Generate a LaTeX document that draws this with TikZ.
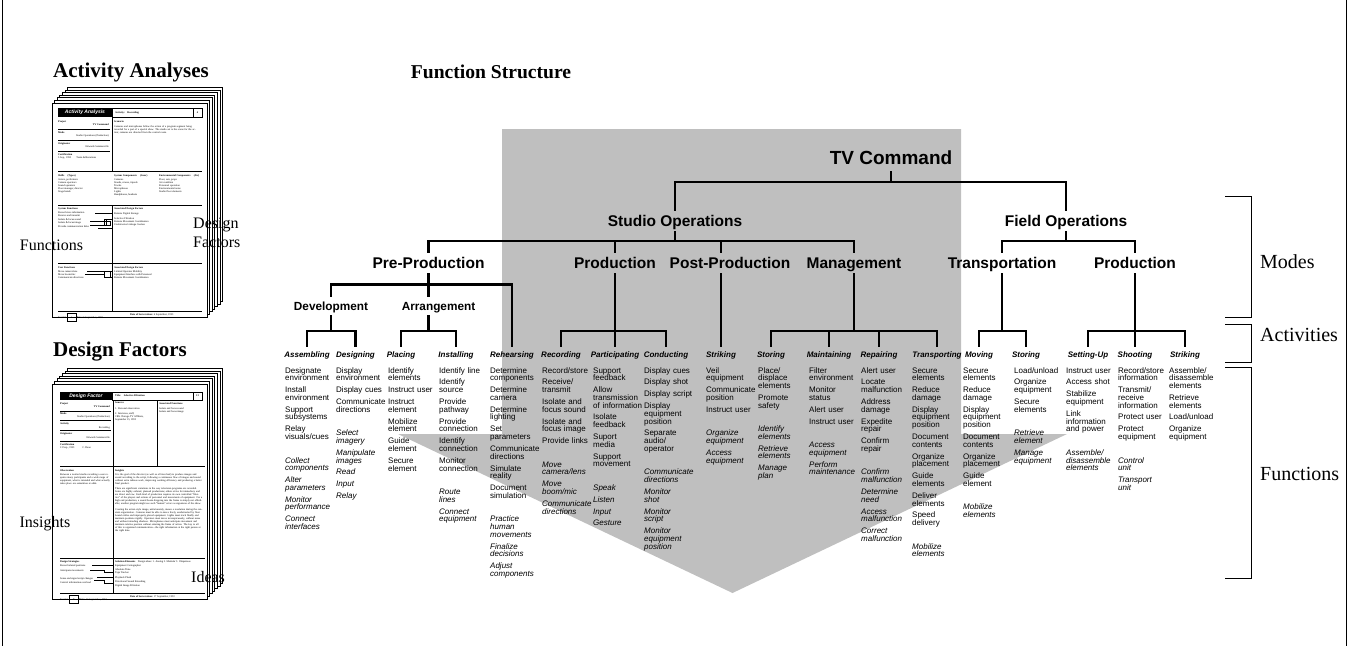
\documentclass[tikz,border=0pt]{standalone}
\usepackage{fontspec}
\setmainfont{Liberation Serif}
\newfontfamily\hv{Liberation Sans}
\usetikzlibrary{calc}
\newcommand\ig{\\[4.1pt]}
\newcommand\ib{\\[15.7pt]\itshape}
\setlength{\lineskiplimit}{-5pt}
\begin{document}
\begin{tikzpicture}[x=1pt,y=-1pt,
  tree/.style={line width=2.6pt},
  lvz/.style={font=\hv\bfseries\fontsize{19}{19}\selectfont,text height=13.6pt,text depth=0pt,inner xsep=0pt,inner ysep=6pt},
  lva/.style={font=\hv\bfseries\fontsize{15.5}{15.5}\selectfont,text height=11.1pt,text depth=0pt,inner xsep=0pt,inner ysep=4.5pt},
  lvc/.style={font=\hv\bfseries\fontsize{11.8}{11.8}\selectfont,text height=8.5pt,text depth=0pt,inner xsep=0pt,inner ysep=5pt},
  actv/.style={font=\hv\bfseries\itshape\fontsize{8}{8}\selectfont,text height=5.8pt,text depth=0pt,inner xsep=0pt,inner ysep=4.6pt},
  fn/.style={font=\hv\fontsize{8}{7.75}\selectfont,anchor=base west,text width=70pt,align=left,inner sep=0pt},
  title/.style={font=\bfseries\fontsize{21}{21}\selectfont,inner sep=0pt},
  side/.style={font=\fontsize{20}{20}\selectfont,inner sep=0pt,anchor=west},
  clab/.style={font=\fontsize{16}{19}\selectfont,inner sep=0pt},
  brk/.style={line width=0.8pt},
  page/.style={draw,fill=white,line width=0.8pt},
  tx/.style={font=\fontsize{2.6}{3.1}\selectfont,inner sep=0pt,anchor=north west},
  txr/.style={tx,anchor=north east},
  txb/.style={font=\bfseries\fontsize{2.6}{3.1}\selectfont,inner sep=0pt,anchor=north west},
  rl/.style={line width=0.9pt},
  thn/.style={line width=0.4pt},
]
\useasboundingbox (0,0) rectangle (1352,646);
% frame
\draw[line width=0.8pt] (2,0) -- (2,646);
\draw[line width=0.8pt] (1346,0) -- (1346,646);

% ---------------- titles
\node[title] (tAA) at (131,72) {Activity Analyses};
\node[title,font=\bfseries\fontsize{19.6}{19.6}\selectfont] (tFS) at (491,72) {Function Structure};
\node[title] (tDF) at (120,352) {Design Factors};

% ---------------- gray arrow
\fill[gray!50] (502,129) -- (961,129) -- (961,434) -- (1067,434) -- (732.5,593) -- (398,434) -- (502,434) -- cycle;

% ---------------- tree nodes
\node[lvz] (tv) at (891,158) {TV Command};
\node[lva] (so) at (675,221) {Studio Operations};
\node[lva] (fo) at (1066,221) {Field Operations};
\node[lva] (pre) at (428.5,263) {Pre-Production};
\node[lva] (pro) at (615,263) {Production};
\node[lva] (pst) at (730,263) {Post-Production};
\node[lva] (mgt) at (854,263) {Management};
\node[lva] (trn) at (1002,263) {Transportation};
\node[lva] (fpr) at (1135,263) {Production};
\node[lvc] (dev) at (331,306) {Development};
\node[lvc] (arr) at (438.5,306) {Arrangement};

\node[actv] (asm) at (307,354.5) {Assembling};
\node[actv] (des) at (355.5,354.5) {Designing};
\node[actv] (pla) at (401,354.5) {Placing};
\node[actv] (ins) at (456,354.5) {Installing};
\node[actv] (reh) at (512,354.5) {Rehearsing};
\node[actv] (rec) at (561,354.5) {Recording};
\node[actv] (par) at (615,354.5) {Participating};
\node[actv] (con) at (666,354.5) {Conducting};
\node[actv] (stk) at (721,354.5) {Striking};
\node[actv] (sto) at (771,354.5) {Storing};
\node[actv] (mai) at (829,354.5) {Maintaining};
\node[actv] (rep) at (879,354.5) {Repairing};
\node[actv] (tra) at (937,354.5) {Transporting};
\node[actv] (mov) at (979,354.5) {Moving};
\node[actv] (fst) at (1026,354.5) {Storing};
\node[actv] (stu) at (1088,354.5) {Setting-Up};
\node[actv] (sho) at (1135,354.5) {Shooting};
\node[actv] (fsk) at (1185,354.5) {Striking};

% ---------------- tree connectors
\coordinate (b0) at (0,182);
\coordinate (b1) at (0,241);
\coordinate (b2) at (0,284.5);
\coordinate (b3) at (0,331);
\draw[tree] (tv.south) -- (tv.south |- b0);
\draw[tree] (so.north) -- (so.north |- b0) -- (fo.north |- b0) -- (fo.north);
\draw[tree] (so.south) -- (so.south |- b1);
\draw[tree] (fo.south) -- (fo.south |- b1);
\draw[tree] (pre.north) -- (pre.north |- b1) -- (mgt.north |- b1) -- (mgt.north);
\draw[tree] (pro.north) -- (pro.north |- b1);
\draw[tree] (stk.north |- b1) -- (stk.north |- pst.north);
\draw[tree] (trn.north) -- (trn.north |- b1) -- (fpr.north |- b1) -- (fpr.north);
\draw[tree] (pre.south) -- (pre.south |- b2);
\draw[tree] (dev.north) -- (dev.north |- b2) -- (reh.north |- b2) -- (reh.north);
\draw[tree] (pre.south |- b2) -- (pre.south |- arr.north);
\draw[tree] (dev.south) -- (dev.south |- b3);
\draw[tree] (asm.north) -- (asm.north |- b3) -- (des.north |- b3) -- (des.north);
\draw[tree] (pre.south |- arr.south) -- (pre.south |- b3);
\draw[tree] (pla.north) -- (pla.north |- b3) -- (ins.north |- b3) -- (ins.north);
\draw[tree] (pro.south) -- (pro.south |- b3);
\draw[tree] (rec.north) -- (rec.north |- b3) -- (con.north |- b3) -- (con.north);
\draw[tree] (par.north) -- (par.north |- b3);
\draw[tree] (stk.north |- pst.south) -- (stk.north);
\draw[tree] (mgt.south) -- (mgt.south |- b3);
\draw[tree] (sto.north) -- (sto.north |- b3) -- (tra.north |- b3) -- (tra.north);
\draw[tree] (mai.north) -- (mai.north |- b3);
\draw[tree] (rep.north) -- (rep.north |- b3);
\draw[tree] (trn.south) -- (trn.south |- b3);
\draw[tree] (mov.north) -- (mov.north |- b3) -- (fst.north |- b3) -- (fst.north);
\draw[tree] (fpr.south) -- (fpr.south |- b3);
\draw[tree] (stu.north) -- (stu.north |- b3) -- (fsk.north |- b3) -- (fsk.north);
\draw[tree] (sho.north) -- (sho.north |- b3);

% ---------------- function lists
\node[fn] (f1) at (285,373) {Designate\\environment\ig Install\\environment\ig Support\\subsystems\ig Relay\\visuals/cues\ib Collect\\components\ig Alter\\parameters\ig Monitor\\performance\ig Connect\\interfaces};
\node[fn] (f2) at (336,373) {Display\\environment\ig Display cues\ig Communicate\\directions\ib Select\\imagery\ig Manipulate\\images\ig Read\ig Input\ig Relay};
\node[fn] (f3) at (388,373) {Identify\\elements\ig Instruct user\ig Instruct\\element\ig Mobilize\\element\ig Guide\\element\ig Secure\\element};
\node[fn] (f4) at (439,373) {Identify line\ig Identify\\source\ig Provide\\pathway\ig Provide\\connection\ig Identify\\connection\ig Monitor\\connection\ib Route\\lines\ig Connect\\equipment};
\node[fn] (f5) at (490,373) {Determine\\components\ig Determine\\camera\ig Determine\\lighting\ig Set\\parameters\ig Communicate\\directions\ig Simulate\\reality\ig Document\\simulation\ib Practice\\human\\movements\ig Finalize\\decisions\ig Adjust\\components};
\node[fn] (f6) at (542,373) {Record/store\ig Receive/\\transmit\ig Isolate and\\focus sound\ig Isolate and\\focus image\ig Provide links\ib Move\\camera/lens\ig Move\\boom/mic\ig Communicate\\directions};
\node[fn] (f7) at (593,373) {Support\\feedback\ig Allow\\transmission\\of information\ig Isolate\\feedback\ig Suport\\media\ig Support\\movement\ib Speak\ig Listen\ig Input\ig Gesture};
\node[fn] (f8) at (644,373) {Display cues\ig Display shot\ig Display script\ig Display\\equipment\\position\ig Separate\\audio/\\operator\ib Communicate\\directions\ig Monitor\\shot\ig Monitor\\script\ig Monitor\\equipment\\position};
\node[fn] (f9) at (706,373) {Veil\\equipment\ig Communicate\\position\ig Instruct user\ib Organize\\equipment\ig Access\\equipment};
\node[fn] (f10) at (758,373) {Place/\\displace\\elements\ig Promote\\safety\ib Identify\\elements\ig Retrieve\\elements\ig Manage\\plan};
\node[fn] (f11) at (809,373) {Filter\\environment\ig Monitor\\status\ig Alert user\ig Instruct user\ib Access\\equipment\ig Perform\\maintenance};
\node[fn] (f12) at (861,373) {Alert user\ig Locate\\malfunction\ig Address\\damage\ig Expedite\\repair\ig Confirm\\repair\ib Confirm\\malfunction\ig Determine\\need\ig Access\\malfunction\ig Correct\\malfunction};
\node[fn] (f13) at (912,373) {Secure\\elements\ig Reduce\\damage\ig Display\\equipment\\position\ig Document\\contents\ig Organize\\placement\ig Guide\\elements\ig Deliver\\elements\ig Speed\\delivery\ib Mobilize\\elements};
\node[fn] (f14) at (963,373) {Secure\\elements\ig Reduce\\damage\ig Display\\equipment\\position\ig Document\\contents\ig Organize\\placement\ig Guide\\element\ib Mobilize\\elements};
\node[fn] (f15) at (1014,373) {Load/unload\ig Organize\\equipment\ig Secure\\elements\ib Retrieve\\element\ig Manage\\equipment};
\node[fn] (f16) at (1066,373) {Instruct user\ig Access shot\ig Stabilize\\equipment\ig Link\\information\\and power\ib Assemble/\\disassemble\\elements};
\node[fn] (f17) at (1118,373) {Record/store\\information\ig Transmit/\\receive\\information\ig Protect user\ig Protect\\equipment\ib Control\\unit\ig Transport\\unit};
\node[fn] (f18) at (1169,373) {Assemble/\\disassemble\\elements\ig Retrieve\\elements\ig Load/unload\ig Organize\\equipment};

% ---------------- side brackets
\draw[brk] (1225,196) -- (1251,196) -- (1251,317) -- (1225,317);
\draw[brk] (1225,324) -- (1251,324) -- (1251,362) -- (1225,362);
\draw[brk] (1225,367) -- (1251,367) -- (1251,578) -- (1225,578);
\node[side] (lm) at (1260,262) {Modes};
\node[side] (la) at (1260,335) {Activities};
\node[side] (lf) at (1260,474) {Functions};

% ================= Card 1: Activity Analysis
\foreach \k in {6,5,...,1}
  \draw[page] (52+2.6*\k,103-2.6*\k) rectangle (207+2.6*\k,317-2.6*\k);
\draw[page] (52,103) rectangle (207,317);
\fill (58,108) rectangle (112,117);
\node[font=\hv\bfseries\itshape\fontsize{5}{5}\selectfont,text=white,inner sep=0pt] (h1) at (85,112.5) {Activity Analysis};
\draw[rl] (112,108) rectangle (193,117);
\draw[rl] (193,108) rectangle (202,117);
\node[txb,anchor=west] (h1a) at (115,112.5) {Activity:\quad Recording};
\node[txb,anchor=center] (h1n) at (197.5,112.5) {4};
\draw[rl] (112,117) -- (112,171);
\draw[rl] (58,129) -- (110,129) (58,140) -- (110,140) (58,151) -- (110,151);
\node[txb] at (58,120) {Project};
\node[txr] at (109,123) {\bfseries TV Command};
\node[txb] at (58,131) {Mode};
\node[txr] at (109,134.5) {Studio Operations (Production)};
\node[txb] at (58,142) {Originator};
\node[txr] at (109,145.5) {Edwards Sommerville};
\node[txb] at (58,153) {Certification};
\node[tx] at (58,156.5) {5 Sep., 1993\qquad Team deliberations};
\node[txb] at (114,120) {Scenario};
\node[tx,text width=86pt,align=left] at (114,125) {Cameras and microphones follow the action of a program segment being recorded for a part of a special show. The studio set is the scene for the action; cameras are directed from the control room.};
\draw[rl] (58,171) -- (202,171);
\node[txb] at (58,174) {Skills \quad(Types)};
\node[tx,align=left] at (58,178.5) {Actors, performers\\Camera operators\\Sound operators\\Floor manager, director\\Stage hands};
\node[txb] at (114,174) {System Components \quad(Gear)};
\node[tx,align=left] at (114,178.5) {Cameras\\Stands, cranes, tripods\\Trucks\\Microphones\\Lights\\Headphones, headsets};
\node[txb] at (159,174) {Environmental Components \quad(Air)};
\node[tx,align=left] at (159,178.5) {Floor, sets, props\\Air condition\\Personnel operation\\Environmental noise\\Studio floor elements};
\draw[rl] (58,205) -- (202,205);
\draw[rl] (112,205) -- (112,311);
\node[txb] at (58,207) {System Functions};
\node[txb] at (114,207) {Associated Design Factors};
\node[tx,align=left] at (58,211.5) {Record store information\\Receive and transmit\\[1pt]Isolate \& focus sound\\Isolate \& focus image\\[1pt]Provide communication links};
\node[tx,align=left] at (114,212) {Remote Digital Storage\\[2pt]Selective Filtration\\Remote Movement Coordination\\Unobtrusive Linkage Cueless};
\draw[thn] (95,212.8) -- (113,212.8);
\draw[thn] (90,221.5) -- (104,221.5) -- (104,219.5) -- (113,219.5);
\draw[thn] (90,224.8) -- (106,224.8) -- (106,219.5);
\draw[thn] (98,228.2) -- (113,228.2);
\draw[thn] (104,221.5) rectangle (110,225);
\draw[rl] (58,263) -- (202,263);
\node[txb] at (58,266) {User Functions};
\node[txb] at (114,266) {Associated Design Factors};
\node[tx,align=left] at (58,270) {Move camera/lens\\Move boom/mic\\Communicate directions};
\node[tx,align=left] at (114,270) {Limited Operator Mobility\\Equipment Interface with Personnel\\Remote Movement Coordination};
\draw[thn] (87,271.3) -- (113,271.3);
\draw[thn] (85,274.4) -- (104,274.4) -- (104,277.5) -- (113,277.5);
\draw[thn] (104,271.3) rectangle (110,277.5);
\draw[rl] (58,311) -- (202,311);
\node[tx] at (58,313) {\textbf{Session}\ \fbox{\,1\,}\ \textbf{Date:} 5 September, 1993};
\node[tx] at (130,313) {\textbf{Date of last revision:} 6 September, 1993};
\node[clab] (cf) at (51.5,245) {Functions};
\node[clab,align=left,anchor=north west] (cd) at (193,218) {Design\\Factors};

% ================= Card 2: Design Factor
\foreach \k in {6,5,...,1}
  \draw[page] (52+2.6*\k,384-2.6*\k) rectangle (207+2.6*\k,599-2.6*\k);
\draw[page] (52,384) rectangle (207,599);
\fill (60,392) rectangle (112,400);
\node[font=\hv\bfseries\itshape\fontsize{5}{5}\selectfont,text=white,inner sep=0pt] (h2) at (86,396) {Design Factor};
\draw[rl] (112,392) rectangle (193,400);
\draw[rl] (193,392) rectangle (202,400);
\node[txb,anchor=west] (h2a) at (115,396) {Title:\quad Selective Filtration};
\node[txb,anchor=center] (h2n) at (197.5,396) {13};
\draw[rl] (113,400) -- (113,466);
\draw[rl] (157,400) -- (157,466);
\draw[rl] (60,411) -- (111,411) (60,420.7) -- (111,420.7) (60,430.7) -- (111,430.7) (60,441) -- (111,441);
\node[txb] at (60,402) {Project};
\node[txr] at (110,405) {\bfseries TV Command};
\node[txb] at (60,412.5) {Mode};
\node[txr] at (110,415.5) {Studio Operations (Production)};
\node[txb] at (60,422.5) {Activity};
\node[txr] at (110,426) {Recording};
\node[txb] at (60,432.5) {Originator};
\node[txr] at (110,436) {Edwards Sommerville};
\node[txb] at (60,443) {Certification};
\node[tx] at (60,447) {13 Sep., 1993\qquad\quad C. Dean};
\node[txb] at (115,402) {Sources};
\node[tx,align=left] at (115,407.5) {1. Personal observation\\[1.5pt]2. Interview, staff,\\CBS Chicago TV Affiliate,\\September 15, 1993};
\node[txb] at (159,402) {Associated Functions};
\node[tx,align=left] at (159,407.5) {Isolate and focus sound\\Isolate and focus image};
\draw[rl] (60,466) -- (205,466);
\draw[rl] (113,466) -- (113,593);
\node[txb] at (60,469) {Observation};
\node[tx,text width=50pt,align=left] at (60,473) {Between a normal studio recording a user requires many participants and a wide range of equipment, what is intended and what actually takes place are sometimes at odds.};
\node[txb] at (115,469) {Insights};
\node[tx,text width=88pt,align=left] at (115,473) {It is the goal of the director (as well as all involved) to produce images and sound according to the script, following a continuous flow of images and sound without extra tedious work, improving working efficiency and producing a better final product.\\[2pt]
There are significant variations in the way television programs are recorded. Some are highly ordered, planned productions; others strive for immediacy and are direct and raw. Each kind of production requires its own controlled ``liberties'' of the players and actions of personnel and movements of equipment. For a high end production, a sound boom dropping into the frame is simply not affordable; another program might see such ``human'' errors as signatures of the show.\\[2pt]
Creating the action style image, unfortunately, means a resolution during the constant organization. Cameras must be able to move freely, unobstructed by floor bound cables and improperly placed equipment. Lights must track fluidly and maintain positions rigidly. Operators must move inconspicuously, without noise and without intruding shadows. Microphones must anticipate movement and maintain relative position without entering the frame of action. The key to all of this is organized communication---the right information at the right person at the right time.};
\draw[thn] (60,557.7) -- (205,557.7);
\node[txb] at (60,560) {Design Strategies};
\node[tx] at (115,560) {\textbf{Solution Elements}\quad Design ideas:\ 1. Analog\ 2. Modular\ 3. Ubiquitous};
\node[tx,align=left] at (60,564) {Record related positions\\[2pt]Anticipate movements\\[5pt]Sense and signal script changes\\[1pt]Control information overload};
\node[tx,align=left] at (115,564) {Equipment Cartographer\\[1.5pt]Absolute Time\\Tape Tracker\\[1.5pt]Playback Plush\\[1.5pt]Directional Sound Extending\\Digital Image Filtration};
\draw[thn] (92,565) -- (113,565);
\draw[thn] (90,570) -- (104,570) -- (104,572) -- (113,572);
\draw[thn] (97,577.5) -- (113,577.5);
\draw[thn] (94,580.5) -- (104,580.5) -- (104,583.5) -- (113,583.5);
\draw[rl] (60,593) -- (205,593);
\node[tx] at (60,595) {\textbf{Session}\ \fbox{\,X\,}\ \textbf{Date:} 16 September, 1993};
\node[tx] at (130,595) {\textbf{Date of last revision:} 17 September, 1993};
\node[clab] (ci) at (45,524) {Insights};
\node[clab,anchor=west] (cid) at (191,577) {Ideas};
\end{tikzpicture}
\end{document}
